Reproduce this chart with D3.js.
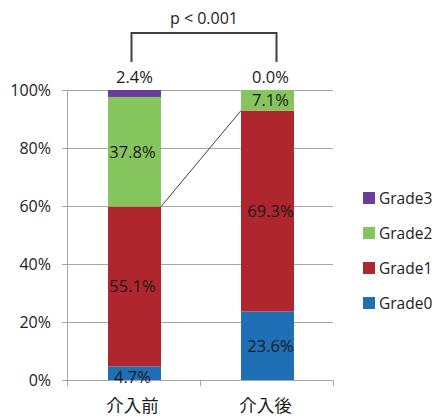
<!DOCTYPE html>
<html>
<head>
<meta charset="utf-8">
<script src="https://cdn.jsdelivr.net/npm/d3@7"></script>
<style>
  html, body { margin: 0; padding: 0; background: #fff; }
  svg { display: block; font-family: "Open Sans", "Noto Sans", sans-serif; }
</style>
</head>
<body>
<svg id="chart" width="441" height="416"></svg>
<script>
// Stacked share of each grade, before and after the intervention
const categories = ["介入前", "介入後"];
const grades = ["Grade0", "Grade1", "Grade2", "Grade3"];
const grade0 = [4.7, 23.6];
const grade1 = [55.1, 69.3];
const grade2 = [37.8, 7.1];
const grade3 = [2.4, 0.0];
const yTicks = [0, 20, 40, 60, 80, 100];
const pLabel = "p < 0.001";

const colors = {
  Grade0: "#1f6fb6",
  Grade1: "#b0262f",
  Grade2: "#86c55e",
  Grade3: "#6a3d9a"
};

const rows = categories.map((c, i) => ({
  cat: c,
  Grade0: grade0[i], Grade1: grade1[i], Grade2: grade2[i], Grade3: grade3[i]
}));

const svg = d3.select("#chart");
const plotLeft = 67, plotRight = 333, plotTop = 90, plotBottom = 380;

const x = d3.scaleBand().domain(categories).range([plotLeft, plotRight]).paddingInner(0).paddingOuter(0);
const y = d3.scaleLinear().domain([0, 100]).range([plotBottom, plotTop]);
const barW = 53;
const labelSize = 16.5;

// gridlines
svg.append("g").selectAll("line").data(yTicks).join("line")
  .attr("x1", plotLeft - 5).attr("x2", plotRight)
  .attr("y1", d => y(d)).attr("y2", d => y(d))
  .attr("stroke", "#a6a6a6").attr("stroke-width", 1)
  .attr("shape-rendering", "crispEdges");

// y axis line
svg.append("line").attr("x1", plotLeft).attr("x2", plotLeft).attr("y1", plotTop).attr("y2", plotBottom)
  .attr("stroke", "#a6a6a6").attr("shape-rendering", "crispEdges");

// y tick labels
svg.append("g").selectAll("text").data(yTicks).join("text")
  .attr("x", 51).attr("y", d => y(d))
  .attr("dy", "0.36em")
  .attr("text-anchor", "end")
  .attr("font-size", 16).attr("fill", "#222")
  .text(d => d + "%");

// x tick marks at band boundaries
const xb = [plotLeft, plotLeft + x.bandwidth(), plotRight];
svg.append("g").selectAll("line").data(xb).join("line")
  .attr("x1", d => d).attr("x2", d => d).attr("y1", plotBottom).attr("y2", plotBottom + 6)
  .attr("stroke", "#a6a6a6").attr("shape-rendering", "crispEdges");

// stacked bars
const stack = d3.stack().keys(grades)(rows);
const barX = c => x(c) + (x.bandwidth() - barW) / 2 + 1;

svg.append("g").selectAll("g").data(stack).join("g")
  .attr("fill", s => colors[s.key])
  .selectAll("rect").data(s => s).join("rect")
  .attr("x", d => barX(d.data.cat))
  .attr("width", barW)
  .attr("y", d => y(d[1]))
  .attr("height", d => y(d[0]) - y(d[1]));

// connector between the tops of Grade1
const g1 = stack[1];
svg.append("line")
  .attr("x1", barX(categories[0]) + barW).attr("y1", y(g1[0][1]))
  .attr("x2", barX(categories[1])).attr("y2", y(g1[1][1]))
  .attr("stroke", "#404040").attr("stroke-width", 1);

// value labels inside segments (Grade0..Grade2)
const inner = [];
stack.forEach(s => {
  if (s.key === "Grade3") return;
  s.forEach(d => {
    inner.push({ cat: d.data.cat, v: d.data[s.key], mid: (d[0] + d[1]) / 2, key: s.key });
  });
});
svg.append("g").selectAll("text").data(inner).join("text")
  .attr("x", d => barX(d.cat) + barW / 2 + (d.cat === categories[1] ? 3 : -2))
  .attr("y", d => d.key === "Grade0" && d.v < 6 ? y(d.mid) + 4 : y(d.mid))
  .attr("dy", "0.36em")
  .attr("text-anchor", "middle")
  .attr("font-size", labelSize).attr("fill", "#1a1a1a")
  .text(d => d.v.toFixed(1) + "%");

// Grade3 labels above the bars
svg.append("g").selectAll("text").data(rows).join("text")
  .attr("x", d => barX(d.cat) + barW / 2 + (d.cat === categories[1] ? 3 : 0))
  .attr("y", 83)
  .attr("text-anchor", "middle")
  .attr("font-size", labelSize).attr("fill", "#1a1a1a")
  .text(d => d.Grade3.toFixed(1) + "%");

// category labels
svg.append("g").selectAll("text").data(categories).join("text")
  .attr("x", d => x(d) + x.bandwidth() / 2 - 1)
  .attr("y", 412)
  .attr("text-anchor", "middle")
  .attr("font-family", "'Noto Sans CJK JP', sans-serif")
  .attr("font-size", 17.5).attr("fill", "#1a1a1a")
  .text(d => d);

// significance bracket
const bx1 = barX(categories[0]) + barW / 2 - 3;
const bx2 = barX(categories[1]) + barW / 2 + 9;
svg.append("path")
  .attr("d", `M${bx1},62 V33 H${bx2} V62`)
  .attr("fill", "none").attr("stroke", "#404040").attr("stroke-width", 2);
svg.append("text")
  .attr("x", (bx1 + bx2) / 2).attr("y", 24)
  .attr("text-anchor", "middle")
  .attr("font-size", 16).attr("fill", "#222")
  .text(pLabel);

// legend (top to bottom: Grade3 .. Grade0)
const legendItems = grades.slice().reverse();
const lg = svg.append("g").selectAll("g").data(legendItems).join("g")
  .attr("transform", (d, i) => `translate(363, ${198 + i * 35})`);
lg.append("rect").attr("x", 0).attr("y", -6).attr("width", 12).attr("height", 12)
  .attr("fill", d => colors[d]);
lg.append("text").attr("x", 16).attr("y", 0).attr("dy", "0.36em")
  .attr("font-size", 15.5).attr("fill", "#222")
  .text(d => d);
</script>
</body>
</html>
